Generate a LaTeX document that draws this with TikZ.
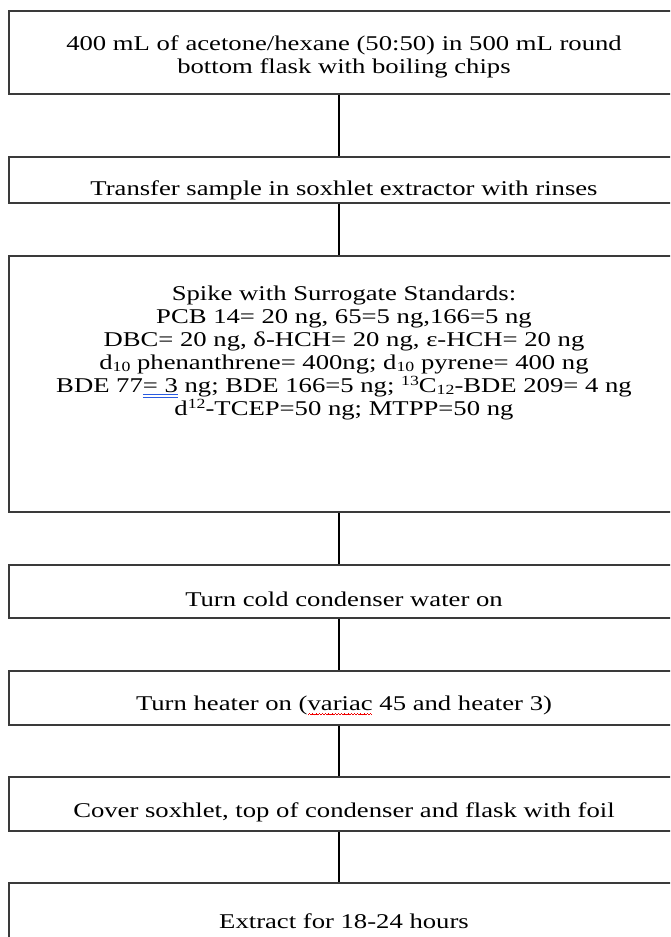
\documentclass[tikz,border=0pt]{standalone}
\usepackage{fontspec}
\setmainfont{Liberation Serif}[FakeStretch=1.27]
\definecolor{boxgray}{HTML}{3A3A3A}
\definecolor{wordblue}{HTML}{2A5BE0}
\definecolor{wordred}{HTML}{F00000}
\newcommand\blueuu[1]{\setbox0\hbox{#1}\rlap{\color{wordblue}\rule[-3.2pt]{\wd0}{0.9pt}}\rlap{\color{wordblue}\rule[-5.6pt]{\wd0}{0.9pt}}\box0\relax}
\newcommand\redwave[1]{\setbox0\hbox{#1}\rlap{\color{wordred}\leaders\hbox{\rule[-5.4pt]{0.8pt}{1pt}\rule[-4.6pt]{0.8pt}{1pt}\rule[-3.8pt]{0.8pt}{1pt}\rule[-4.6pt]{0.8pt}{1pt}}\hskip\wd0}\box0\relax}
\newcommand\lowidx[1]{\raisebox{-2.5pt}{\fontsize{14}{14}\selectfont #1}}
\newcommand\highidx[1]{\raisebox{6.5pt}{\fontsize{14}{14}\selectfont #1}}
\begin{document}
\begin{tikzpicture}[x=1pt,y=-1pt,
  box/.style={draw=boxgray, line width=1.4pt, rectangle, minimum width=664pt, inner sep=0pt},
  txt/.style={font=\fontsize{21}{23}\selectfont, align=center, inner sep=0pt, text=black, anchor=base},
  link/.style={draw=black, line width=1.2pt}]
\useasboundingbox (0,0) rectangle (670,937);
\fill[white] (0,0) rectangle (670,937);
\clip (0,0) rectangle (670,937);
% boxes (left edge at x=9)
\node[box, minimum height=83pt] (b1) at (341,52.5) {};
\node[box, minimum height=46pt] (b2) at (341,180) {};
\node[box, minimum height=256pt] (b3) at (341,384) {};
\node[box, minimum height=53pt] (b4) at (341,591.5) {};
\node[box, minimum height=54pt] (b5) at (341,698) {};
\node[box, minimum height=54pt] (b6) at (341,804) {};
\node[box, minimum height=77pt] (b7) at (341,921.5) {};
% connectors
\draw[link] ([xshift=-2pt]b1.south) -- ([xshift=-2pt]b2.north);
\draw[link] ([xshift=-2pt]b2.south) -- ([xshift=-2pt]b3.north);
\draw[link] ([xshift=-2pt]b3.south) -- ([xshift=-2pt]b4.north);
\draw[link] ([xshift=-2pt]b4.south) -- ([xshift=-2pt]b5.north);
\draw[link] ([xshift=-2pt]b5.south) -- ([xshift=-2pt]b6.north);
\draw[link] ([xshift=-2pt]b6.south) -- ([xshift=-2pt]b7.north);
% texts
\node[txt] (t1a) at (344,50) {400 mL of acetone/hexane (50:50) in 500 mL round};
\node[txt] (t1b) at (344,73) {bottom flask with boiling chips};
\node[txt] (t2) at (344,195) {Transfer sample in soxhlet extractor with rinses};
\node[txt] (t3a) at (344,300) {Spike with Surrogate Standards:};
\node[txt] (t3b) at (344,323) {PCB 14= 20 ng, 65=5 ng,166=5 ng};
\node[txt] (t3c) at (344,346) {DBC= 20 ng, δ-HCH= 20 ng, ε-HCH= 20 ng};
\node[txt] (t3d) at (344,369) {d\lowidx{10} phenanthrene= 400ng; d\lowidx{10} pyrene= 400 ng};
\node[txt] (t3e) at (344,392) {BDE 77\blueuu{= 3} ng; BDE 166=5 ng; \highidx{13}C\lowidx{12}-BDE 209= 4 ng};
\node[txt] (t3f) at (344,415) {d\highidx{12}-TCEP=50 ng; MTPP=50 ng};
\node[txt] (t4) at (344,606) {Turn cold condenser water on};
\node[txt] (t5) at (344,710) {Turn heater on (\redwave{variac} 45 and heater 3)};
\node[txt] (t6) at (344,817) {Cover soxhlet, top of condenser and flask with foil};
\node[txt] (t7) at (344,928) {Extract for 18-24 hours};
\end{tikzpicture}
\end{document}
